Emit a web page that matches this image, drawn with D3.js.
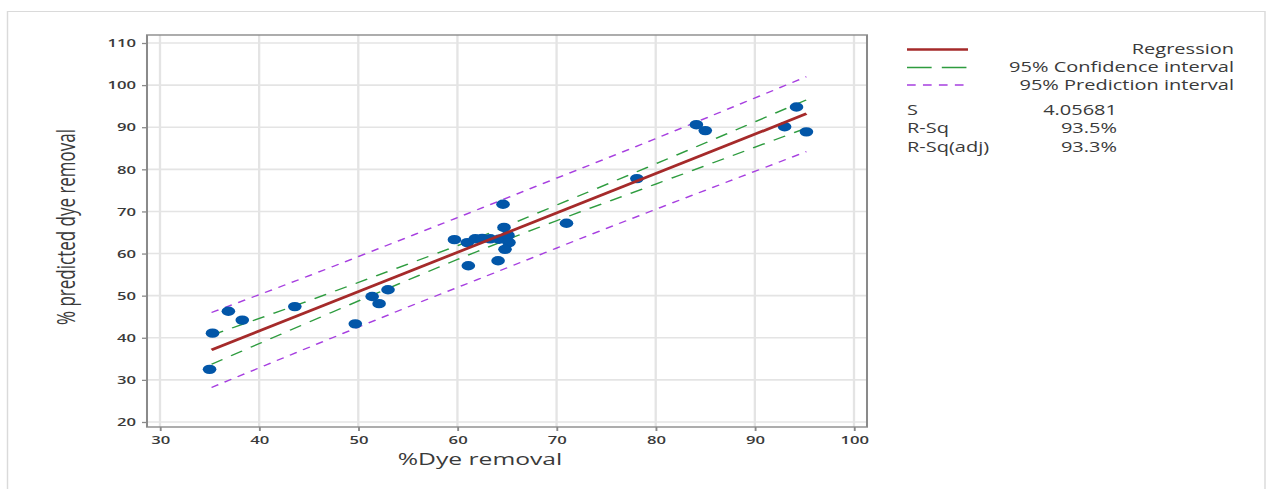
<!DOCTYPE html>
<html>
<head>
<meta charset="utf-8">
<script src="https://cdn.jsdelivr.net/npm/d3@7"></script>
<style>
  body { margin: 0; background: #fff; }
  text { font-family: "Open Sans", sans-serif; fill: #3a3a3a; }
</style>
</head>
<body>
<svg id="chart"></svg>
<script>
// fitted line plot: predicted vs observed dye removal
var dyeRemoval = [35.0, 35.3, 36.9, 38.3, 43.6, 49.7, 51.4, 52.1, 53.0, 59.7,
                  61.0, 61.1, 61.8, 62.5, 63.3, 64.1, 64.2, 64.6, 64.7, 65.1,
                  65.2, 64.8, 71.0, 78.1, 84.1, 85.0, 93.0, 94.2, 95.2];
var predictedRemoval = [32.5, 41.1, 46.3, 44.2, 47.4, 43.3, 49.8, 48.1, 51.4, 63.3,
                        62.6, 57.1, 63.5, 63.6, 63.5, 58.3, 63.4, 71.7, 66.2, 64.3,
                        62.6, 61.0, 67.2, 77.8, 90.6, 89.2, 90.1, 94.8, 88.9];

// regression line ends
var fitX = [35.2, 95.2];
var fitY = [37.1, 93.2];

// interval curves, read at a few x positions
var bandX   = [35.2, 45.0, 55.0, 62.0, 70.0, 80.0, 95.2];
var ciUpper = [40.6, 48.8, 57.5, 63.7, 71.5, 81.3, 96.5];
var ciLower = [33.7, 43.7, 53.7, 60.5, 67.8, 76.5, 89.8];
var piUpper = [46.0, 54.7, 63.9, 70.4, 77.9, 87.3, 102.0];
var piLower = [28.2, 37.7, 47.3, 53.8, 61.3, 70.5, 84.2];

var xTicks = [30, 40, 50, 60, 70, 80, 90, 100];
var yTicks = [20, 30, 40, 50, 60, 70, 80, 90, 100, 110];

var legendLabels = ["Regression", "95% Confidence interval", "95% Prediction interval"];
var statNames = ["S", "R-Sq", "R-Sq(adj)"];
var statValues = ["4.05681", "93.5%", "93.3%"];

// the picture is stretched sideways, so draw narrow and let the viewBox stretch it
var sx = 1.45;
var W = 1272 / sx, H = 489;
function X(px) { return px / sx; }

var svg = d3.select("#chart")
    .attr("width", 1272).attr("height", 489)
    .attr("viewBox", "0 0 " + W + " " + H)
    .attr("preserveAspectRatio", "none");

svg.append("rect")
    .attr("x", X(7.5)).attr("y", 11.5)
    .attr("width", X(1265) - X(7.5)).attr("height", 500)
    .attr("fill", "none").attr("stroke", "#dadada").attr("stroke-width", 1);

var margin = {left: X(147), top: 35},
    width = X(867) - X(147),
    height = 427 - 35;

var x = d3.scaleLinear().domain([28.69, 101.31]).range([0, width]);
var y = d3.scaleLinear().domain([18.81, 111.9]).range([height, 0]);

var g = svg.append("g").attr("transform", "translate(" + margin.left + "," + margin.top + ")");

// grid
g.append("g").selectAll("line.gx").data(xTicks).enter().append("line")
    .attr("x1", function(d) { return x(d); }).attr("x2", function(d) { return x(d); })
    .attr("y1", 0).attr("y2", height)
    .attr("stroke", "#e4e4e4").attr("stroke-width", 1.6);
g.append("g").selectAll("line.gy").data(yTicks).enter().append("line")
    .attr("y1", function(d) { return y(d); }).attr("y2", function(d) { return y(d); })
    .attr("x1", 0).attr("x2", width)
    .attr("stroke", "#e4e4e4").attr("stroke-width", 1.6);

// axes
var xAxis = g.append("g")
    .attr("transform", "translate(0," + height + ")")
    .call(d3.axisBottom(x).tickValues(xTicks).tickSize(4).tickPadding(5));
var yAxis = g.append("g")
    .call(d3.axisLeft(y).tickValues(yTicks).tickSize(X(5)).tickPadding(X(6)));
[xAxis, yAxis].forEach(function(a) {
  a.select(".domain").remove();
  a.selectAll(".tick line").attr("stroke", "#8a8a8a").attr("stroke-width", 1.3);
  a.selectAll(".tick text").attr("font-family", "Open Sans").attr("font-size", 11.5)
      .attr("font-weight", 600).attr("fill", "#3a3a3a");
});

// frame
g.append("rect").attr("width", width).attr("height", height)
    .attr("fill", "none").attr("stroke", "#8a8a8a").attr("stroke-width", 1.4);

// intervals
function band(vals) {
  return d3.line().curve(d3.curveNatural)
      .x(function(d, i) { return x(bandX[i]); })
      .y(function(d) { return y(d); })(vals);
}
var piColor = "#a73fe0", ciColor = "#2e9c3f", fitColor = "#a52a2a";
[piUpper, piLower].forEach(function(v) {
  g.append("path").attr("d", band(v)).attr("fill", "none")
      .attr("stroke", piColor).attr("stroke-width", 1.3).attr("stroke-dasharray", "5.5,5");
});
[ciUpper, ciLower].forEach(function(v) {
  g.append("path").attr("d", band(v)).attr("fill", "none")
      .attr("stroke", ciColor).attr("stroke-width", 1.3).attr("stroke-dasharray", "9,7");
});

// points
g.append("g").selectAll("circle").data(dyeRemoval).enter().append("circle")
    .attr("cx", function(d) { return x(d); })
    .attr("cy", function(d, i) { return y(predictedRemoval[i]); })
    .attr("r", 4.7)
    .attr("fill", "#0256a8");

// regression line
g.append("line")
    .attr("x1", x(fitX[0])).attr("y1", y(fitY[0]))
    .attr("x2", x(fitX[1])).attr("y2", y(fitY[1]))
    .attr("stroke", fitColor).attr("stroke-width", 2.6);

// axis titles
svg.append("text")
    .attr("x", X(480)).attr("y", 465)
    .attr("text-anchor", "middle").attr("font-size", 17)
    .text("%Dye removal");
svg.append("text")
    .attr("transform", "translate(" + X(75) + ",227) rotate(-90)")
    .attr("text-anchor", "middle").attr("font-size", 17)
    .attr("font-family", "Liberation Sans")
    .text("% predicted dye removal");

// legend
var legY = [49.5, 67.5, 85];
var legStyles = [
  {color: fitColor, dash: null, w: 2.6},
  {color: ciColor, dash: "17,7", w: 1.4},
  {color: piColor, dash: "6,5", w: 1.4}
];
var leg = svg.append("g");
legendLabels.forEach(function(lab, i) {
  leg.append("line")
      .attr("x1", X(907)).attr("x2", X(968))
      .attr("y1", legY[i]).attr("y2", legY[i])
      .attr("stroke", legStyles[i].color).attr("stroke-width", legStyles[i].w)
      .attr("stroke-dasharray", legStyles[i].dash);
  leg.append("text")
      .attr("x", X(1234)).attr("y", legY[i] + 5)
      .attr("text-anchor", "end").attr("font-size", 13.8)
      .text(lab);
});
var statY = [115.5, 133.5, 152];
statNames.forEach(function(n, i) {
  leg.append("text").attr("x", X(907)).attr("y", statY[i])
      .attr("font-size", 13.8).text(n);
  leg.append("text").attr("x", X(1117)).attr("y", statY[i])
      .attr("text-anchor", "end").attr("font-size", 13.8).text(statValues[i]);
});
</script>
</body>
</html>
